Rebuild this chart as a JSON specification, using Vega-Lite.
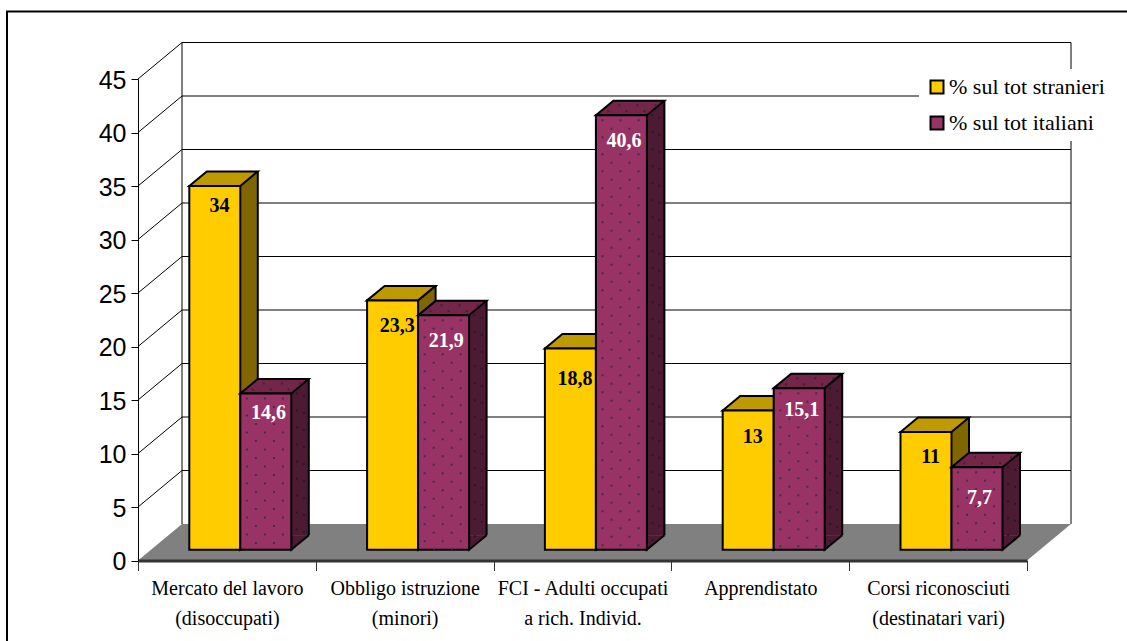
{"$schema":"https://vega.github.io/schema/vega-lite/v6.json","width":889,"height":481.5,"autosize":{"type":"none"},"padding":{"left":138,"top":79,"right":100,"bottom":80.5},"background":"white","config":{"view":{"stroke":null}},
"datasets":{"bars":[
{"cat":"Mercato del lavoro\n(disoccupati)","series":"% sul tot stranieri","value":34,"label":"34"},
{"cat":"Obbligo istruzione\n(minori)","series":"% sul tot stranieri","value":23.3,"label":"23,3"},
{"cat":"FCI - Adulti occupati\na rich. Individ.","series":"% sul tot stranieri","value":18.8,"label":"18,8"},
{"cat":"Apprendistato","series":"% sul tot stranieri","value":13,"label":"13"},
{"cat":"Corsi riconosciuti\n(destinatari vari)","series":"% sul tot stranieri","value":11,"label":"11"},
{"cat":"Mercato del lavoro\n(disoccupati)","series":"% sul tot italiani","value":14.6,"label":"14,6"},
{"cat":"Obbligo istruzione\n(minori)","series":"% sul tot italiani","value":21.9,"label":"21,9"},
{"cat":"FCI - Adulti occupati\na rich. Individ.","series":"% sul tot italiani","value":40.6,"label":"40,6"},
{"cat":"Apprendistato","series":"% sul tot italiani","value":15.1,"label":"15,1"},
{"cat":"Corsi riconosciuti\n(destinatari vari)","series":"% sul tot italiani","value":7.7,"label":"7,7"}],
"ticks":[{"cat":"Mercato del lavoro\n(disoccupati)","tick":5},{"cat":"Mercato del lavoro\n(disoccupati)","tick":10},{"cat":"Mercato del lavoro\n(disoccupati)","tick":15},{"cat":"Mercato del lavoro\n(disoccupati)","tick":20},{"cat":"Mercato del lavoro\n(disoccupati)","tick":25},{"cat":"Mercato del lavoro\n(disoccupati)","tick":30},{"cat":"Mercato del lavoro\n(disoccupati)","tick":35},{"cat":"Mercato del lavoro\n(disoccupati)","tick":40},{"cat":"Mercato del lavoro\n(disoccupati)","tick":45}],
"anchor":[{"cat":"Mercato del lavoro\n(disoccupati)","tick":0}]},
"data":{"name":"bars"},
"encoding":{"x":{"field":"cat","type":"nominal","title":null,"sort":null,"scale":{"domain":["Mercato del lavoro\n(disoccupati)","Obbligo istruzione\n(minori)","FCI - Adulti occupati\na rich. Individ.","Apprendistato","Corsi riconosciuti\n(destinatari vari)"],"paddingInner":0,"paddingOuter":0},"axis":{"labelAngle":0,"labelExpr":"split(datum.label,'\\n')","labelFont":"Liberation Serif","labelFontSize":20,"labelLineHeight":30,"labelColor":"#000","labelLimit":0,"labelOverlap":false,"labelPadding":8,"labelBaseline":"top","tickBand":"extent","tickSize":10,"tickColor":"#333","domainColor":"#333","domainWidth":3,"grid":false,"zindex":1}}},
"layer":[
{"data":{"name":"anchor"},"mark":{"type":"point","size":4,"opacity":1,"filled":false,"stroke":"#000","strokeWidth":2,"shape":"M-219.9,90 L-219.9,-549 L910,-549"},"encoding":{"y":{"field":"tick","type":"quantitative","title":null,"scale":{"domain":[0,45],"nice":false},"axis":{"values":[0,5,10,15,20,25,30,35,40,45],"labelFont":"Liberation Sans","labelFontSize":25,"labelColor":"#000","labelPadding":5,"labelOffset":1,"tickSize":7,"tickColor":"#000","domainColor":"#000","grid":false,"zindex":1}}}},
{"data":{"name":"anchor"},"mark":{"type":"point","size":4,"opacity":1,"filled":true,"fill":"#808080","strokeWidth":0,"shape":"M-88.9,0 L-44.9,-36.5 L844.1,-36.5 L800.1,0 Z"},"encoding":{"y":{"field":"tick","type":"quantitative"}}},
{"data":{"name":"anchor"},"mark":{"type":"point","size":4,"opacity":1,"filled":false,"stroke":"#000","strokeWidth":1,"shape":"M-44.9,-36.5 L-44.9,-518 L844.1,-518 L844.1,-36.5"},"encoding":{"y":{"field":"tick","type":"quantitative"}}},
{"data":{"name":"ticks"},"mark":{"type":"point","size":4,"opacity":1,"filled":false,"stroke":"#000","strokeWidth":1,"shape":"M-88.9,0 L-44.9,-36.5 L844.1,-36.5"},"encoding":{"y":{"field":"tick","type":"quantitative"}}},
{"transform":[{"filter":"datum.series=='% sul tot stranieri'"}],"layer":[
{"mark":{"type":"bar","size":17.5,"xOffset":22.15,"yOffset":-25.3,"y2Offset":-25.3,"fill":"#806600","strokeWidth":0},"encoding":{"y":{"field":"value","type":"quantitative"},"y2":{"datum":0}}},
{"mark":{"type":"point","size":4,"opacity":1,"filled":true,"fill":"#806600","stroke":"#000","strokeWidth":2,"xOffset":13.4,"yOffset":-10.8,"shape":"M17.5,-14.5 L0,0 L0,-14.5"},"encoding":{"y":{"datum":0,"type":"quantitative"}}},
{"mark":{"type":"rule","color":"#000","strokeWidth":2,"xOffset":30.9,"yOffset":-25.3,"y2Offset":-25.3},"encoding":{"y":{"field":"value","type":"quantitative"},"y2":{"datum":0}}},
{"mark":{"type":"point","size":4,"opacity":1,"filled":true,"fill":"#BF9900","stroke":"#000","strokeWidth":2,"xOffset":-12.1,"yOffset":-10.8,"shape":"M-25.5,0 L-8,-14.5 L43,-14.5 L25.5,0 Z"},"encoding":{"y":{"field":"value","type":"quantitative"}}},
{"mark":{"type":"bar","size":51,"xOffset":-12.1,"yOffset":-10.8,"y2Offset":-10.8,"stroke":"#000","strokeWidth":2},"encoding":{"y":{"field":"value","type":"quantitative"},"y2":{"datum":0},"fill":{"field":"series","type":"nominal","scale":{"domain":["% sul tot stranieri","% sul tot italiani"],"range":["#FFCC00","#993366"]},"legend":{"title":null,"orient":"none","legendX":781,"legendY":-10,"fillColor":"white","padding":7,"rowPadding":14,"symbolType":"square","symbolSize":169,"symbolStrokeColor":"#000","symbolStrokeWidth":2,"symbolOpacity":1,"labelFont":"Liberation Serif","labelFontSize":22,"labelColor":"#000","labelOffset":1,"labelLimit":0}}}},
{"mark":{"type":"text","font":"Liberation Serif","fontWeight":"bold","fontSize":20,"fill":"#000","xOffset":-7.5,"yOffset":{"expr":"13+({'34':-4,'23,3':2,'18,8':7,'13':3,'11':1})[datum.label]"},"baseline":"middle"},"encoding":{"y":{"field":"value","type":"quantitative"},"text":{"field":"label"}}}
]},
{"transform":[{"filter":"datum.series=='% sul tot italiani'"}],"layer":[
{"mark":{"type":"bar","size":17.5,"xOffset":73.15,"yOffset":-25.3,"y2Offset":-25.3,"fill":"#4D1A33","strokeWidth":0},"encoding":{"y":{"field":"value","type":"quantitative"},"y2":{"datum":0}}},
{"mark":{"type":"point","size":4,"opacity":1,"filled":true,"fill":"#4D1A33","stroke":"#000","strokeWidth":2,"xOffset":64.4,"yOffset":-10.8,"shape":"M17.5,-14.5 L0,0 L0,-14.5"},"encoding":{"y":{"datum":0,"type":"quantitative"}}},
{"mark":{"type":"rule","color":"#000","strokeWidth":2,"xOffset":81.9,"yOffset":-25.3,"y2Offset":-25.3},"encoding":{"y":{"field":"value","type":"quantitative"},"y2":{"datum":0}}},
{"mark":{"type":"rule","color":"#241a26","strokeWidth":2,"strokeDash":[2,15],"strokeDashOffset":-4,"xOffset":70,"yOffset":-15.8,"y2Offset":-15.8},"encoding":{"y":{"field":"value","type":"quantitative"},"y2":{"datum":0}}},
{"mark":{"type":"rule","color":"#241a26","strokeWidth":2,"strokeDash":[2,15],"strokeDashOffset":-12.5,"xOffset":77,"yOffset":-21.8,"y2Offset":-21.8},"encoding":{"y":{"field":"value","type":"quantitative"},"y2":{"datum":0}}},
{"mark":{"type":"point","size":4,"opacity":1,"filled":true,"fill":"#732649","stroke":"#000","strokeWidth":2,"xOffset":38.9,"yOffset":-10.8,"shape":"M-25.5,0 L-8,-14.5 L43,-14.5 L25.5,0 Z"},"encoding":{"y":{"field":"value","type":"quantitative"}}},
{"mark":{"type":"point","size":4,"opacity":1,"filled":true,"fill":"#3a2436","strokeWidth":0,"xOffset":38.9,"yOffset":-10.8,"shape":"M-14,-5h2v2h-2z M4,-5h2v2h-2z M22,-5h2v2h-2z M-3,-11h2v2h-2z M15,-11h2v2h-2z M33,-11h2v2h-2z"},"encoding":{"y":{"field":"value","type":"quantitative"}}},
{"mark":{"type":"bar","size":51,"xOffset":38.9,"yOffset":-10.8,"y2Offset":-10.8,"stroke":"#000","strokeWidth":2},"encoding":{"y":{"field":"value","type":"quantitative"},"y2":{"datum":0},"fill":{"field":"series","type":"nominal","scale":{"domain":["% sul tot stranieri","% sul tot italiani"],"range":["#FFCC00","#993366"]}}}},
{"mark":{"type":"rule","color":"#4a2c48","strokeWidth":2,"strokeDash":[2,15],"strokeDashOffset":-4,"xOffset":20,"yOffset":-10.8,"y2Offset":-10.8},"encoding":{"y":{"field":"value","type":"quantitative"},"y2":{"datum":0}}},
{"mark":{"type":"rule","color":"#4a2c48","strokeWidth":2,"strokeDash":[2,15],"strokeDashOffset":-12.5,"xOffset":29,"yOffset":-10.8,"y2Offset":-10.8},"encoding":{"y":{"field":"value","type":"quantitative"},"y2":{"datum":0}}},
{"mark":{"type":"rule","color":"#4a2c48","strokeWidth":2,"strokeDash":[2,15],"strokeDashOffset":-4,"xOffset":38,"yOffset":-10.8,"y2Offset":-10.8},"encoding":{"y":{"field":"value","type":"quantitative"},"y2":{"datum":0}}},
{"mark":{"type":"rule","color":"#4a2c48","strokeWidth":2,"strokeDash":[2,15],"strokeDashOffset":-12.5,"xOffset":47,"yOffset":-10.8,"y2Offset":-10.8},"encoding":{"y":{"field":"value","type":"quantitative"},"y2":{"datum":0}}},
{"mark":{"type":"rule","color":"#4a2c48","strokeWidth":2,"strokeDash":[2,15],"strokeDashOffset":-4,"xOffset":56,"yOffset":-10.8,"y2Offset":-10.8},"encoding":{"y":{"field":"value","type":"quantitative"},"y2":{"datum":0}}},
{"mark":{"type":"text","font":"Liberation Serif","fontWeight":"bold","fontSize":20,"fill":"#fff","xOffset":41.5,"yOffset":{"expr":"13+({'14,6':-4,'21,9':2,'40,6':2,'15,1':-2,'7,7':7})[datum.label]"},"baseline":"middle"},"encoding":{"y":{"field":"value","type":"quantitative"},"text":{"field":"label"}}}
]}
]}
